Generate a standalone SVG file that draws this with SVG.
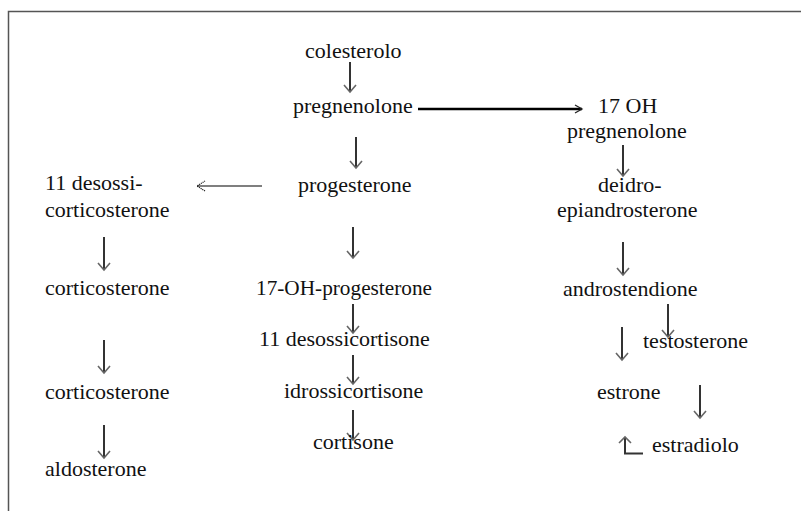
<svg xmlns="http://www.w3.org/2000/svg" width="801" height="511" viewBox="0 0 801 511">
<style>
text{font-family:"Liberation Serif","Times New Roman",serif;font-size:22px;fill:#111}
.shaft{stroke:#333;stroke-width:2;fill:none}
.head{stroke:#666;stroke-width:1.6;fill:none}
.border{stroke:#555;stroke-width:1.5;fill:none}
</style>
<defs>
<marker id="vh" markerUnits="userSpaceOnUse" markerWidth="20" markerHeight="20" refX="0" refY="0" orient="auto" overflow="visible">
<path d="M-7,-6 L0,0 L-7,6" stroke="#666" stroke-width="1.6" fill="none"/>
</marker>
<marker id="hh" markerUnits="userSpaceOnUse" markerWidth="20" markerHeight="20" refX="0" refY="0" orient="auto" overflow="visible">
<path d="M-7,-4 L0,0 L-7,4" stroke="#222" stroke-width="1.3" fill="none"/>
</marker>
<marker id="lh" markerUnits="userSpaceOnUse" markerWidth="20" markerHeight="20" refX="0" refY="0" orient="auto" overflow="visible">
<path d="M-8,-5 L0,0 L-8,5" stroke="#222" stroke-width="1.2" stroke-dasharray="1.2,0.8" fill="none"/>
</marker>
</defs>
<path class="border" d="M8.5,511 V11.5 H801"/>
<g id="connectors">
<line class="shaft" x1="350" y1="62" x2="350" y2="92" marker-end="url(#vh)"/>
<line class="shaft" x1="356" y1="137" x2="356" y2="168" marker-end="url(#vh)"/>
<line class="shaft" x1="353" y1="227" x2="353" y2="258" marker-end="url(#vh)"/>
<line class="shaft" x1="353" y1="304" x2="353" y2="333" marker-end="url(#vh)"/>
<line class="shaft" x1="353" y1="355" x2="353" y2="384" marker-end="url(#vh)"/>
<line class="shaft" x1="353" y1="410" x2="353" y2="440" marker-end="url(#vh)"/>
<line class="shaft" x1="104" y1="237" x2="104" y2="270" marker-end="url(#vh)"/>
<line class="shaft" x1="104" y1="340" x2="104" y2="373" marker-end="url(#vh)"/>
<line class="shaft" x1="104" y1="425" x2="104" y2="458" marker-end="url(#vh)"/>
<line class="shaft" x1="623" y1="145" x2="623" y2="176" marker-end="url(#vh)"/>
<line class="shaft" x1="623" y1="242" x2="623" y2="275" marker-end="url(#vh)"/>
<line class="shaft" x1="668" y1="304" x2="668" y2="337" marker-end="url(#vh)"/>
<line class="shaft" x1="622" y1="327" x2="622" y2="360" marker-end="url(#vh)"/>
<line class="shaft" x1="700" y1="385" x2="700" y2="418" marker-end="url(#vh)"/>
<line x1="418" y1="109" x2="582" y2="109" stroke="#000" stroke-width="2.5" marker-end="url(#hh)"/>
<line x1="262" y1="186" x2="197" y2="186" stroke="#000" stroke-width="1.2" marker-end="url(#lh)"/>
<path class="shaft" d="M625,438 V453.5 H643"/>
<path class="head" d="M619,443 L625,437 L631,443"/>
</g>
<g id="n-colesterolo"><text x="305" y="58">colesterolo</text></g>
<g id="n-pregnenolone"><text x="293" y="113">pregnenolone</text></g>
<g id="n-17oh-pregnenolone"><text x="598" y="113">17 OH</text><text x="567" y="138">pregnenolone</text></g>
<g id="n-progesterone"><text x="298" y="192">progesterone</text></g>
<g id="n-desossicorticosterone"><text x="45" y="190">11 desossi-</text><text x="45" y="217">corticosterone</text></g>
<g id="n-corticosterone1"><text x="45" y="295">corticosterone</text></g>
<g id="n-corticosterone2"><text x="45" y="399">corticosterone</text></g>
<g id="n-aldosterone"><text x="45" y="476">aldosterone</text></g>
<g id="n-17oh-progesterone"><text x="256" y="295" textLength="176" lengthAdjust="spacingAndGlyphs">17-OH-progesterone</text></g>
<g id="n-desossicortisone"><text x="259" y="346">11 desossicortisone</text></g>
<g id="n-idrossicortisone"><text x="284" y="398">idrossicortisone</text></g>
<g id="n-cortisone"><text x="313" y="449">cortisone</text></g>
<g id="n-deidroepiandrosterone"><text x="598" y="192">deidro-</text><text x="557" y="217">epiandrosterone</text></g>
<g id="n-androstendione"><text x="563" y="296">androstendione</text></g>
<g id="n-testosterone"><text x="643" y="348">testosterone</text></g>
<g id="n-estrone"><text x="597" y="399">estrone</text></g>
<g id="n-estradiolo"><text x="652" y="452">estradiolo</text></g>
</svg>
